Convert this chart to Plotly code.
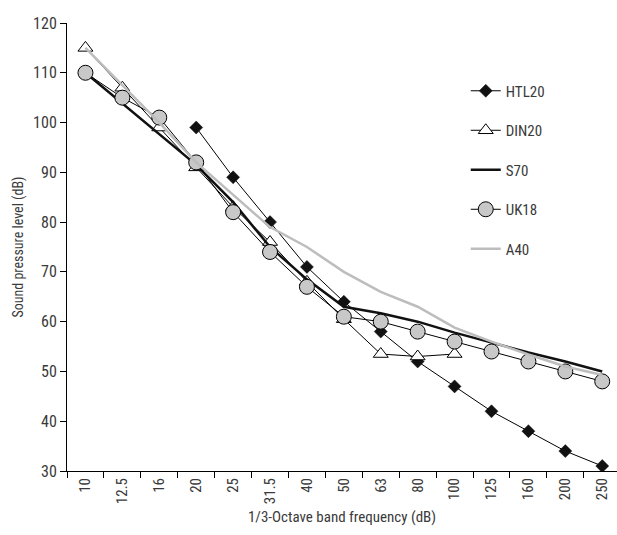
import plotly.graph_objects as go

freqs = ["10", "12.5", "16", "20", "25", "31.5", "40", "50", "63", "80", "100", "125", "160", "200", "250"]

htl20_x = ["20", "25", "31.5", "40", "50", "63", "80", "100", "125", "160", "200", "250"]
htl20_y = [99, 89, 80, 71, 64, 58, 52, 47, 42, 38, 34, 31]

din20_x = ["10", "12.5", "16", "20", "25", "31.5", "40", "50", "63", "80", "100"]
din20_y = [115, 107, 99, 91, 83, 76, 68, 60.5, 53.5, 53, 53.5]

s70_y = [110, 103.8, 97.7, 91.5, 84, 75, 68.5, 63, 61.7, 60, 57.8, 55.8, 53.8, 52, 50]

uk18_y = [110, 105, 101, 92, 82, 74, 67, 61, 60, 58, 56, 54, 52, 50, 48]

a40_y = [115, 107.5, 100, 92, 85.5, 79, 75, 70, 66, 63, 58.8, 56, 53.4, 51, 49.3]

FONT = "Liberation Sans Narrow, Roboto Condensed, Arial Narrow, Liberation Sans, sans-serif"

fig = go.Figure()
fig.add_trace(go.Scatter(
    x=htl20_x, y=htl20_y, name="HTL20", mode="lines+markers", legendgroup="a",
    line=dict(color="black", width=1),
    marker=dict(symbol="diamond", size=10, color="#111111", line=dict(color="#111111", width=0.5))))
fig.add_trace(go.Scatter(
    x=din20_x, y=din20_y, name="DIN20", mode="lines+markers", legendgroup="b",
    line=dict(color="black", width=1),
    marker=dict(symbol="triangle-up", size=13, color="white", line=dict(color="black", width=1))))
fig.add_trace(go.Scatter(
    x=freqs, y=s70_y, name="S70", mode="lines", legendgroup="c",
    line=dict(color="#111111", width=2.5)))
fig.add_trace(go.Scatter(
    x=freqs, y=uk18_y, name="UK18", mode="lines+markers", legendgroup="d",
    line=dict(color="black", width=1),
    marker=dict(symbol="circle", size=15, color="#c8c8c8", line=dict(color="black", width=1))))
fig.add_trace(go.Scatter(
    x=freqs, y=a40_y, name="A40", mode="lines", legendgroup="e",
    line=dict(color="#bdbdbd", width=2.5)))

fig.update_layout(
    width=617, height=535,
    margin=dict(l=67, r=0, t=23, b=64),
    paper_bgcolor="white", plot_bgcolor="white",
    font=dict(family=FONT, size=14, color="#3a3a3a"),
    showlegend=True,
    legend=dict(x=0.725, y=0.885, xanchor="left", yanchor="top",
                font=dict(size=15, color="#3a3a3a"),
                tracegroupgap=17, bgcolor="rgba(0,0,0,0)"),
    xaxis=dict(type="category", categoryorder="array", categoryarray=freqs,
               range=[-0.5, 14.4], tickson="boundaries",
               ticks="outside", ticklen=6, tickcolor="black",
               showline=True, linecolor="black", linewidth=1,
               showgrid=False, zeroline=False, tickangle=-90,
               tickfont=dict(size=15, color="#3a3a3a"),
               title=dict(text="1/3-Octave band frequency (dB)", font=dict(size=15, color="#3a3a3a"), standoff=8)),
    yaxis=dict(range=[30, 120], dtick=10, tick0=30,
               ticks="outside", ticklen=6, tickcolor="black",
               showline=True, linecolor="black", linewidth=1,
               showgrid=False, zeroline=False,
               tickfont=dict(size=16, color="#3a3a3a"),
               title=dict(text="Sound pressure level (dB)", font=dict(size=14, color="#3a3a3a"), standoff=6)),
)

fig.write_html("out.html", config={"displayModeBar": False},
               post_script="document.body.style.margin='0';")
